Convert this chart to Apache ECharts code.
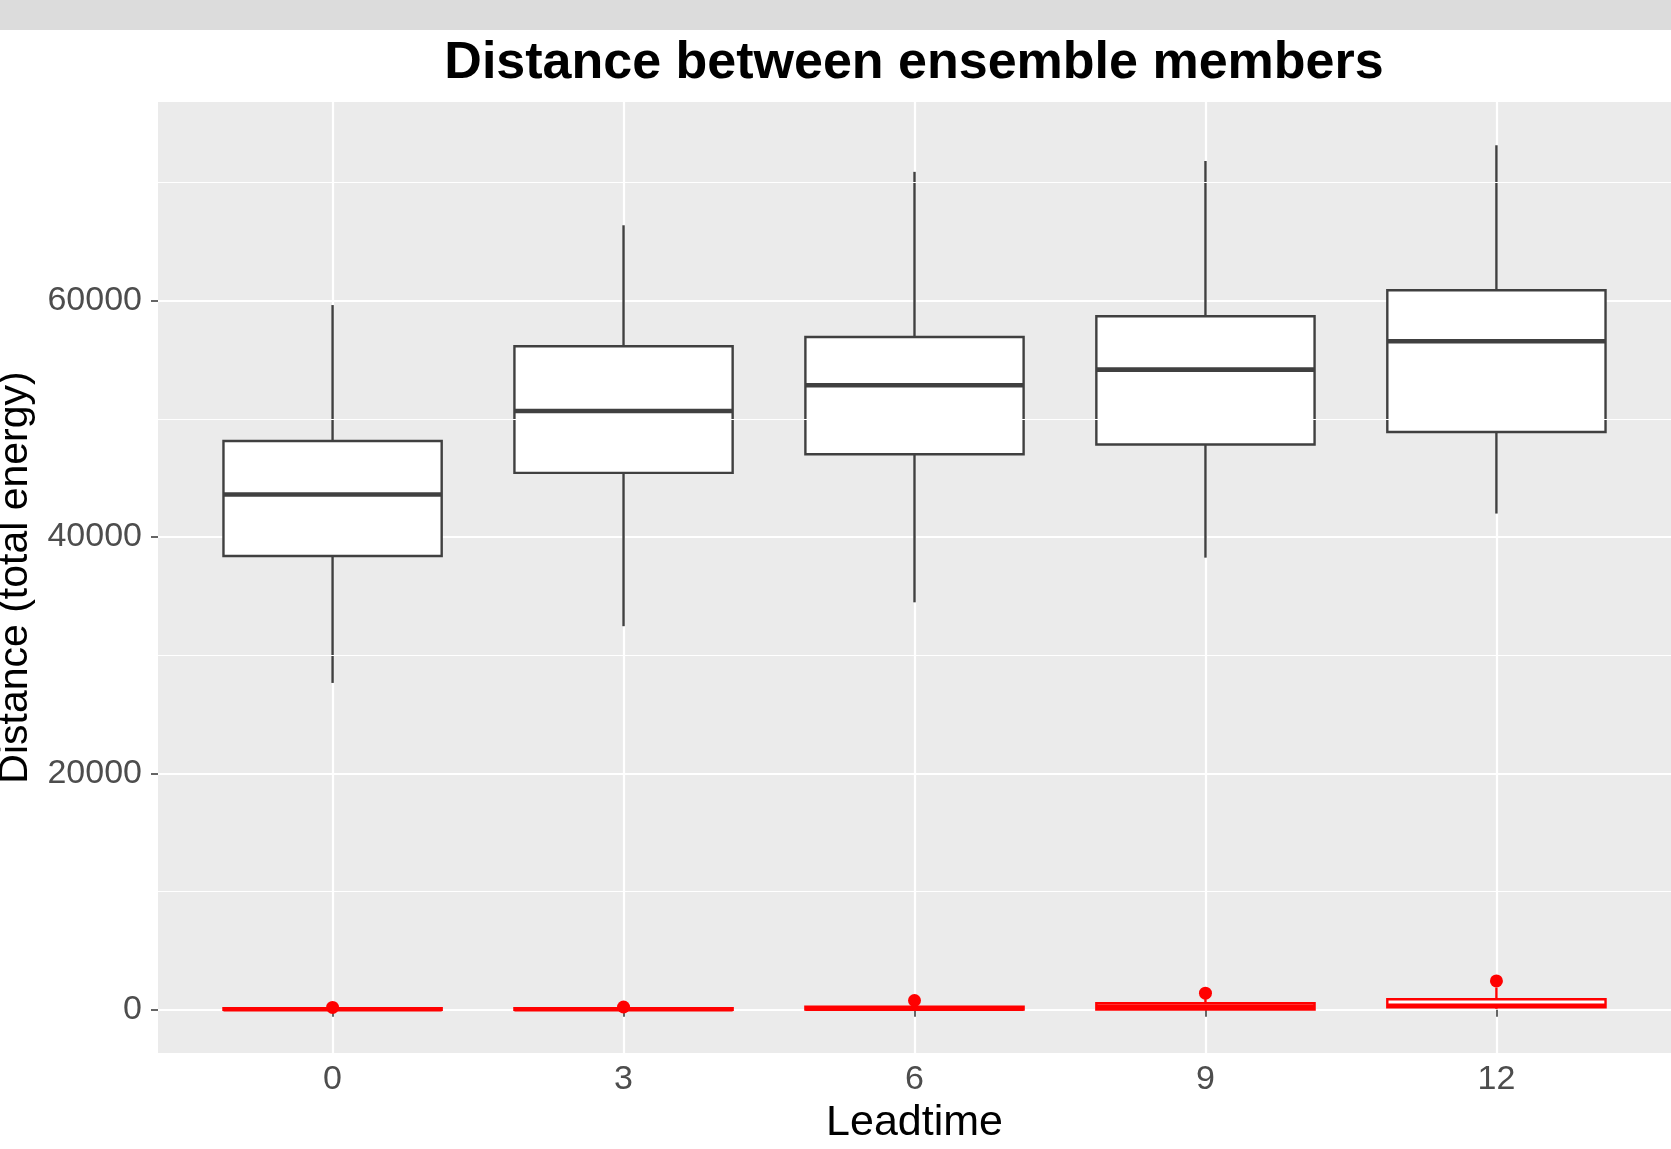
<!DOCTYPE html>
<html>
<head>
<meta charset="utf-8">
<style>
  html, body { margin: 0; padding: 0; background: #ffffff; }
  #chart { width: 1671px; height: 1149px; }
</style>
<script src="https://cdn.jsdelivr.net/npm/echarts@6/dist/echarts.min.js"></script>
</head>
<body>
<div id="chart"></div>
<script>
// ---- data ----
const leadtimes = ['0', '3', '6', '9', '12'];
const yTicks = [0, 20000, 40000, 60000];
const yMinorTicks = [10000, 30000, 50000, 70000];

// total-energy distance between ensemble members (black boxes)
const blackMin    = [27650, 32450, 34470, 38250, 41980];
const blackQ1     = [38390, 45420, 47000, 47820, 48880];
const blackMedian = [43590, 50660, 52840, 54160, 56560];
const blackQ3     = [48120, 56130, 56920, 58670, 60870];
const blackMax    = [59620, 66370, 70890, 71810, 73140];

// second group (red boxes, near zero)
const redMin    = [0,   0,   0,   0,    80];
const redQ1     = [5,   5,   20,  20,   210];
const redMedian = [40,  45,  90,  260,  340];
const redQ3     = [120, 130, 250, 560,  890];
const redMax    = [160, 180, 500, 1000, 1880];
const redOutliers = [[200], [230], [780], [1400], [2440]];

// ---- build series data ----
function boxRows(mins, q1s, meds, q3s, maxs) {
  return leadtimes.map((_, i) => [i + 1, mins[i], q1s[i], meds[i], q3s[i], maxs[i]]);
}
const blackRows = boxRows(blackMin, blackQ1, blackMedian, blackQ3, blackMax);
const redRows = boxRows(redMin, redQ1, redMedian, redQ3, redMax);
const redOutlierPts = [];
redOutliers.forEach((arr, i) => arr.forEach(v => redOutlierPts.push([i + 1, v])));

const BOX_FRAC = 0.75;
function makeRender(color) {
  return function (params, api) {
    const x = api.value(0);
    const pLo = api.coord([x, api.value(1)]);
    const pQ1 = api.coord([x, api.value(2)]);
    const pMed = api.coord([x, api.value(3)]);
    const pQ3 = api.coord([x, api.value(4)]);
    const pHi = api.coord([x, api.value(5)]);
    const band = api.size([1, 0])[0];
    const hw = band * BOX_FRAC / 2;
    const cx = pMed[0];
    const lw = 2.4;
    return {
      type: 'group',
      children: [
        { type: 'line', shape: { x1: cx, y1: pHi[1], x2: cx, y2: pQ3[1] }, style: { stroke: color, lineWidth: lw } },
        { type: 'line', shape: { x1: cx, y1: pQ1[1], x2: cx, y2: pLo[1] }, style: { stroke: color, lineWidth: lw } },
        { type: 'rect', shape: { x: cx - hw, y: pQ3[1], width: 2 * hw, height: pQ1[1] - pQ3[1] },
          style: { fill: '#ffffff', stroke: color, lineWidth: lw } },
        { type: 'line', shape: { x1: cx - hw, y1: pMed[1], x2: cx + hw, y2: pMed[1] }, style: { stroke: color, lineWidth: 4.6 } }
      ]
    };
  };
}

const chart = echarts.init(document.getElementById('chart'), null, { renderer: 'canvas' });
const FONT = '"Liberation Sans", Arial, Helvetica, sans-serif';

chart.setOption({
  backgroundColor: '#ffffff',
  animation: false,
  title: {
    text: 'Distance between ensemble members',
    left: 914,
    top: 38,
    padding: 0,
    textAlign: 'center',
    textStyle: { fontFamily: FONT, fontSize: 52, fontWeight: 'bold', color: '#000000' }
  },
  graphic: [
    { type: 'rect', left: 0, top: 0, shape: { width: 1671, height: 30 }, style: { fill: '#dcdcdc' }, silent: true, z: 100 }
  ],
  grid: {
    left: 158, right: 0, top: 102, bottom: 96,
    containLabel: false,
    outerBoundsMode: 'none',
    show: true, backgroundColor: '#ebebeb', borderWidth: 0
  },
  xAxis: {
    type: 'value',
    min: 0.4, max: 5.6,
    name: 'Leadtime',
    nameLocation: 'middle',
    nameGap: 47,
    nameTextStyle: { fontFamily: FONT, fontSize: 43, color: '#000000' },
    axisLine: { show: false },
    axisTick: { show: true, length: 7, customValues: [1, 2, 3, 4, 5], lineStyle: { color: '#333333', width: 1.5 } },
    axisLabel: {
      customValues: [1, 2, 3, 4, 5],
      formatter: v => leadtimes[Math.round(v) - 1] || '',
      margin: 10, fontFamily: FONT, fontSize: 34, color: '#4d4d4d'
    },
    splitLine: { show: true, lineStyle: { color: '#ffffff', width: 2.2 } }
  },
  yAxis: {
    type: 'value',
    min: -3660, max: 76800,
    name: 'Distance (total energy)',
    nameLocation: 'middle',
    nameGap: 94,
    nameTextStyle: { fontFamily: FONT, fontSize: 41, color: '#000000' },
    axisLine: { show: false },
    axisTick: { show: true, length: 7, customValues: yTicks, lineStyle: { color: '#333333', width: 1.5 } },
    axisLabel: {
      customValues: yTicks,
      formatter: v => String(v),
      margin: 16, fontFamily: FONT, fontSize: 34, color: '#4d4d4d'
    },
    splitLine: { show: true, lineStyle: { color: '#ffffff', width: 2.2 } }
  },
  series: [
    {
      type: 'line', data: [], z: 1, silent: true,
      markLine: {
        silent: true, symbol: 'none', label: { show: false },
        lineStyle: { color: '#ffffff', width: 1.2, type: 'solid' },
        data: yMinorTicks.map(v => ({ yAxis: v }))
      }
    },
    {
      name: 'members', type: 'custom', z: 3,
      renderItem: makeRender('#404040'),
      encode: { x: 0, y: [1, 2, 3, 4, 5] },
      data: blackRows
    },
    {
      name: 'red', type: 'custom', z: 4,
      renderItem: makeRender('#ff0000'),
      encode: { x: 0, y: [1, 2, 3, 4, 5] },
      data: redRows
    },
    {
      name: 'red outliers', type: 'scatter', z: 5,
      symbol: 'circle', symbolSize: 13,
      itemStyle: { color: '#ff0000', opacity: 1 },
      data: redOutlierPts
    }
  ]
});
</script>
</body>
</html>
